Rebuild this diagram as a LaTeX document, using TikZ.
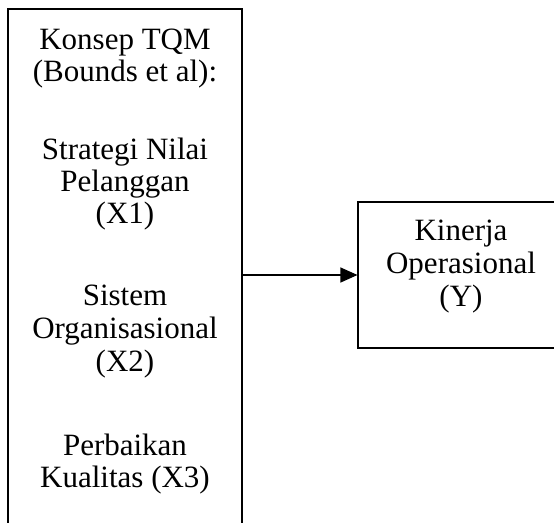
\documentclass[tikz,border=0pt]{standalone}
\usepackage{fontspec}
\setmainfont{Liberation Serif}
\usetikzlibrary{arrows.meta}
\begin{document}
\begin{tikzpicture}[x=1pt,y=-1pt,
  txt/.style={anchor=base,inner sep=0pt,font=\fontsize{31}{36}\selectfont},
  boxframe/.style={draw,line width=1.1pt,inner sep=0pt}]
\clip (0,0) rectangle (554,522);
\fill[white] (0,0) rectangle (554,522);
\node[boxframe,minimum width=234pt,minimum height=540pt] (L) at (125,279) {};
\node[boxframe,minimum width=210pt,minimum height=146pt] (R) at (463,275) {};
\draw[line width=1.1pt,-{Triangle[length=17pt,width=15pt]}] (R.west -| L.east) -- (R.west);
% left texts
\node[txt] (l1) at (125,49) {Konsep TQM};
\node[txt] (l2) at (125,81) {(Bounds et al):};
\node[txt] (l3) at (125,159) {Strategi Nilai};
\node[txt] (l4) at (125,191) {Pelanggan};
\node[txt] (l5) at (125,223) {(X1)};
\node[txt] (l6) at (125,305) {Sistem};
\node[txt] (l7) at (125,338) {Organisasional};
\node[txt] (l8) at (125,371) {(X2)};
\node[txt] (l9) at (125,455) {Perbaikan};
\node[txt] (l10) at (125,487) {Kualitas (X3)};
% right texts
\node[txt] (r1) at (461,240) {Kinerja};
\node[txt] (r2) at (461,273) {Operasional};
\node[txt] (r3) at (461,306) {(Y)};
\end{tikzpicture}
\end{document}
